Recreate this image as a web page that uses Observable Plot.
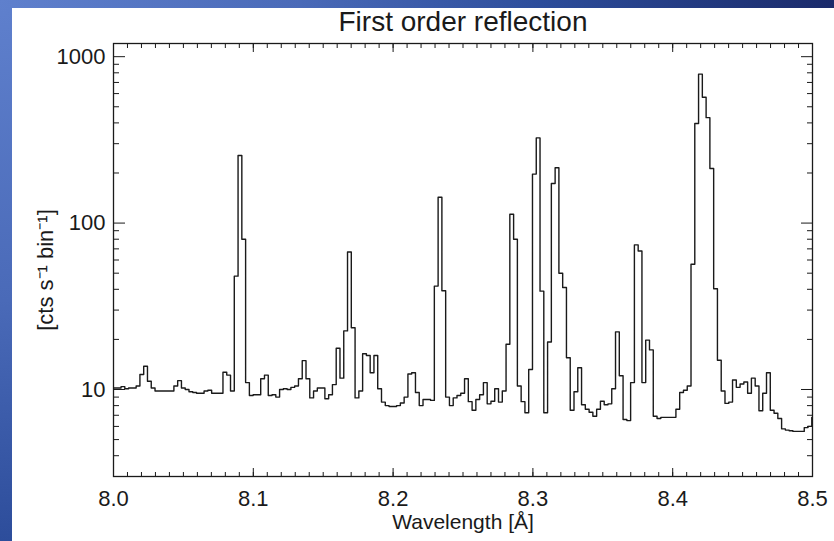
<!DOCTYPE html>
<html>
<head>
<meta charset="utf-8">
<script src="https://cdn.jsdelivr.net/npm/d3@7"></script>
<script src="https://cdn.jsdelivr.net/npm/@observablehq/plot@0.6"></script>
<style>
  html, body { margin: 0; padding: 0; }
  body {
    width: 834px; height: 541px; position: relative; overflow: hidden;
    background: radial-gradient(circle at 0 0, #5f80cd 0px, #4a6ab8 300px, #2d4d9b 541px, #1a2a6a 834px);
  }
  #paper { position: absolute; left: 12px; top: 8px; right: 0; bottom: 0; background: #ffffff; }
  #chart { position: absolute; left: 0; top: 0; }
</style>
</head>
<body>
<div id="paper"></div>
<div id="chart"></div>
<script>
// ---- data ----
const titleText = "First order reflection";
const xLabelText = "Wavelength [Å]";
const yLabelText = "[cts s\u207B\u00B9 bin\u207B\u00B9]";

const binStart = 8.0;      // Å, start of first bin
const binWidth = 0.0027;   // Å per bin

const counts = [
  10.2, 10.2, 10.4, 10.1, 10.2, 10.2, 10.5, 12.3, 13.8, 11.2,
  10.2, 9.8, 9.8, 9.8, 9.8, 9.8, 10.5, 11.3, 10.2, 10.0,
  9.7, 9.6, 9.5, 9.5, 9.8, 9.9, 9.5, 9.5, 9.5, 12.7,
  12.2, 9.8, 48, 255, 80, 11, 9.2, 9.3, 9.3, 11.6,
  12.2, 9.2, 9.3, 9.0, 10.0, 10.1, 10.0, 10.3, 10.5, 11.6,
  14.9, 11.6, 8.9, 9.8, 10.2, 10.2, 8.8, 9.3, 10.7, 17.7,
  11.7, 22.5, 67, 23.5, 8.9, 9.8, 16.4, 16.0, 12.6, 16.0,
  10.1, 8.4, 8.0, 7.9, 7.9, 8.0, 8.3, 9.0, 12.4, 12.6,
  9.6, 8.0, 8.7, 8.7, 8.6, 41.8, 143, 39.2, 9.0, 8.0,
  8.9, 9.2, 9.5, 11.6, 8.45, 7.5, 8.7, 9.3, 11.0, 8.2,
  8.5, 10.1, 8.4, 9.8, 18.7, 113, 80, 10.5, 8.45, 7.25,
  13.2, 197, 325, 39, 7.25, 19.3, 173, 215, 50, 41,
  15.5, 7.5, 9.7, 13.5, 8.1, 7.6, 7.3, 6.9, 7.6, 8.5,
  8.1, 8.2, 10.1, 22.2, 12.1, 6.6, 6.5, 11.0, 74, 68,
  11, 19.8, 17.3, 6.9, 6.7, 6.8, 6.8, 6.8, 6.8, 7.6,
  9.6, 9.9, 10.5, 56.6, 397, 785, 570, 430, 213, 40.3,
  15, 9.8, 8.25, 8.4, 11.4, 10.3, 10.8, 11.1, 9.5, 11.7,
  10.5, 7.45, 9.5, 12.6, 7.5, 7.2, 6.7, 5.8, 5.7, 5.65,
  5.6, 5.6, 5.6, 5.9, 6.0, 6.8
];

const xDomain = [8.0, 8.5];
const yDomain = [3, 1200];
const xMajorTicks = [8.0, 8.1, 8.2, 8.3, 8.4, 8.5];
const yMajorTicks = [10, 100, 1000];
const xMinorTicks = d3.range(0, 51).map(i => +(8 + i / 100).toFixed(2));
const yMinorTicks = [3, 4, 5, 6, 7, 8, 9, 20, 30, 40, 50, 60, 70, 80, 90, 200, 300, 400, 500, 600, 700, 800, 900];

// ---- table for the step line ----
const spectrum = counts.map((c, i) => ({wl: binStart + i * binWidth, c}));
spectrum.push({wl: xDomain[1], c: counts[counts.length - 1]});

const ink = "#1a1a1a";
const font = "'Liberation Sans', Arial, Helvetica, sans-serif";

const chart = Plot.plot({
  width: 834,
  height: 541,
  marginLeft: 113,
  marginRight: 22,
  marginTop: 43,
  marginBottom: 65,
  style: {background: "transparent", fontFamily: font, overflow: "visible", color: ink},
  x: {domain: xDomain, label: null},
  y: {type: "log", domain: yDomain, label: null},
  marks: [
    Plot.line(spectrum, {x: "wl", y: "c", curve: "step-after", stroke: ink, strokeWidth: 1.4, clip: true}),
    // inward ticks on all four sides
    Plot.axisX({anchor: "bottom", ticks: xMinorTicks, tickSize: -4, text: null, stroke: ink, label: null}),
    Plot.axisX({anchor: "bottom", ticks: xMajorTicks, tickSize: -8, text: null, stroke: ink, label: null}),
    Plot.axisX({anchor: "top", ticks: xMinorTicks, tickSize: -4, text: null, stroke: ink, label: null}),
    Plot.axisX({anchor: "top", ticks: xMajorTicks, tickSize: -8, text: null, stroke: ink, label: null}),
    Plot.axisY({anchor: "left", ticks: yMinorTicks, tickSize: -6, text: null, stroke: ink, label: null}),
    Plot.axisY({anchor: "left", ticks: yMajorTicks, tickSize: -12, text: null, stroke: ink, label: null}),
    Plot.axisY({anchor: "right", ticks: yMinorTicks, tickSize: -6, text: null, stroke: ink, label: null}),
    Plot.axisY({anchor: "right", ticks: yMajorTicks, tickSize: -12, text: null, stroke: ink, label: null}),
    // tick labels
    Plot.axisX({anchor: "bottom", ticks: xMajorTicks, tickSize: 0, tickPadding: 14, tickFormat: d => d.toFixed(1), fontSize: 22, fill: ink, label: null}),
    Plot.axisY({anchor: "left", ticks: yMajorTicks, tickSize: 0, tickPadding: 8, tickFormat: d => String(d), fontSize: 22, fill: ink, label: null}),
    Plot.frame({stroke: ink, strokeWidth: 1.3}),
    // title & axis titles
    Plot.text([titleText], {frameAnchor: "top", lineAnchor: "middle", textAnchor: "middle", dy: -21, text: d => d, fontSize: 28, fill: ink}),
    Plot.text([xLabelText], {frameAnchor: "bottom", lineAnchor: "middle", textAnchor: "middle", dy: 46, text: d => d, fontSize: 21, fill: ink}),
    Plot.text([yLabelText], {frameAnchor: "left", lineAnchor: "middle", textAnchor: "middle", dx: -68, dy: 10, rotate: -90, text: d => d, fontSize: 22, fill: ink})
  ]
});
document.getElementById("chart").appendChild(chart);
</script>
</body>
</html>
